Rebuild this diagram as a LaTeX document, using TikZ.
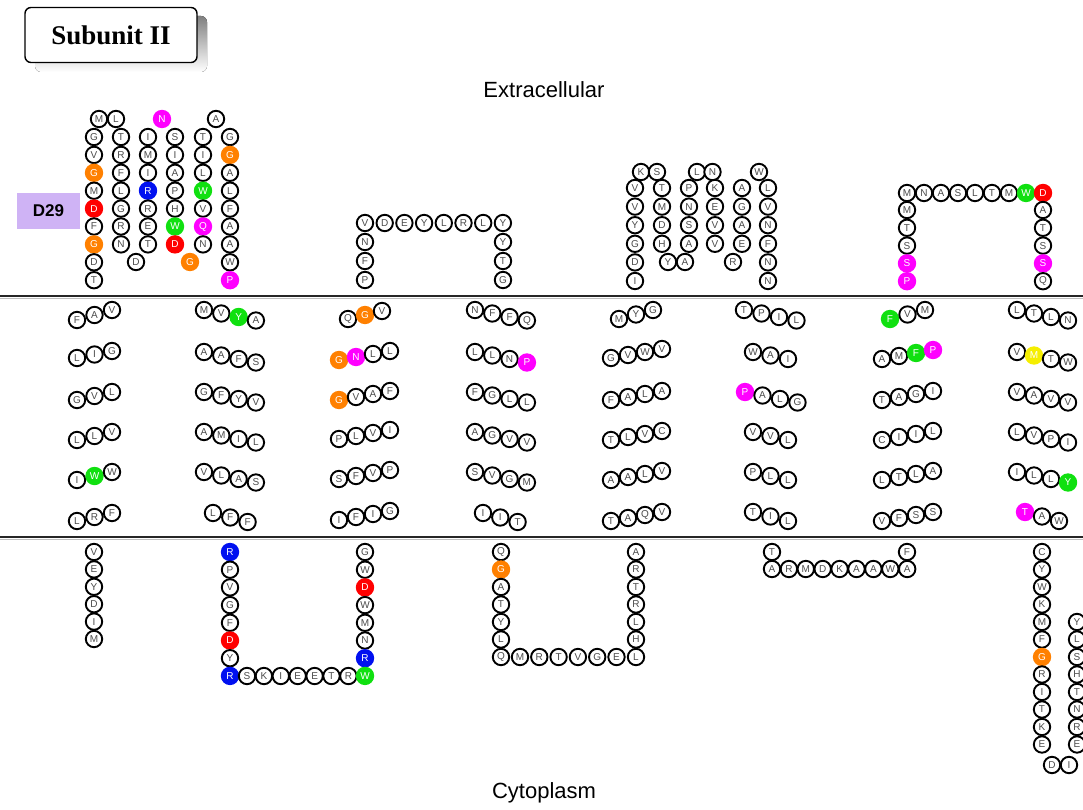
\documentclass[tikz,border=0pt]{standalone}
\usepackage{fontspec}
\setmainfont{Liberation Sans}
\newfontfamily\titlefont{Liberation Serif}
\definecolor{aaorange}{HTML}{FF8000}
\definecolor{aared}{HTML}{FF0000}
\definecolor{aablue}{HTML}{0010F0}
\definecolor{aagreen}{HTML}{10E010}
\definecolor{aamagenta}{HTML}{FF00FF}
\definecolor{aayellow}{HTML}{F5EE00}
\definecolor{lavender}{HTML}{CFB3F5}
\definecolor{shade}{HTML}{9A9A9A}
\newcount\rescnt
\def\resparse#1#2\relax{%
  \global\advance\rescnt by 1
  \node[res,res#2] (r\the\rescnt) at (\rx,\ry) {#1};}
% x0, y0, dx, dy, residues (letter + colour code)
\newcommand\resseg[5]{%
  \foreach \t [count=\i from 0] in {#5}{%
    \pgfmathsetmacro\rx{#1+\i*(#3)}%
    \pgfmathsetmacro\ry{#2+\i*(#4)}%
    \expandafter\resparse\t\relax}}
\begin{document}
\begin{tikzpicture}[x=1pt,y=-1pt,
    res/.style={circle,draw=black,line width=1.9pt,fill=white,minimum size=16.4pt,
      inner sep=0pt,text=black!70,font=\fontsize{10}{10}\selectfont},
    colres/.style={draw=none,minimum size=18.4pt,text=white},
    reso/.style={colres,fill=aaorange},
    resr/.style={colres,fill=aared},
    resb/.style={colres,fill=aablue},
    resg/.style={colres,fill=aagreen},
    resm/.style={colres,fill=aamagenta},
    resy/.style={colres,fill=aayellow},
    membrane/.style={line width=1.6pt,black!85}]
\useasboundingbox (0,0) rectangle (1083,810);

% title and compartments
\fill[shade,rounded corners=6pt] (35,16) rectangle (207,72);
\node[draw,line width=1.4pt,fill=white,rounded corners=6pt,minimum width=172pt,
  minimum height=55pt,font=\titlefont\bfseries\fontsize{27}{27}\selectfont]
  (title) at (111,35) {Subunit II};
\node[font=\fontsize{22}{22}\selectfont] (extra) at (544,90) {Extracellular};
\node[font=\fontsize{22}{22}\selectfont] (cyto) at (544,793) {Cytoplasm};
\node[fill=lavender,minimum width=63pt,minimum height=36pt,inner sep=0pt,
  font=\bfseries\fontsize{17}{17}\selectfont] (d29) at (48.5,211) {D29};

% membrane
\draw[black!25,line width=1pt] (0,298) -- (1083,298);
\draw[membrane] (0,296) -- (1083,296);
\draw[black!25,line width=1pt] (0,539) -- (1083,539);
\draw[membrane] (0,537) -- (1083,537);

% extracellular loops
\resseg{94}{137}{0}{17.9}{G,V,Go,M,Dr,F,Go,D,T}
\resseg{99}{119}{17}{0}{M,L}
\resseg{121}{137}{0}{17.9}{T,R,F,L,G,R,N}
\resseg{136}{262}{0}{0}{D}
\resseg{148}{137}{0}{17.9}{I,M,I,Rb,R,E,T}
\resseg{162}{119}{0}{0}{Nm}
\resseg{175}{137}{0}{17.9}{S,I,A,P,H,Wg,Dr}
\resseg{190}{262}{0}{0}{Go}
\resseg{203}{137}{0}{17.9}{T,I,L,Wg,V,Qm,N}
\resseg{216}{119}{0}{0}{A}
\resseg{230}{137}{0}{17.9}{G,Go,A,L,F,A,A,W,Pm}

\resseg{365}{223}{19.7}{0}{V,D,E,Y,L,R,L,Y}
\resseg{365}{242}{0}{19}{N,F,P}
\resseg{503}{242}{0}{19}{Y,T,G}

\resseg{635}{188}{0}{18.6}{V,V,Y,G,D,I}
\resseg{641}{172}{16}{0}{K,S}
\resseg{662}{188}{0}{18.6}{T,M,D,H}
\resseg{668}{262}{17}{0}{Y,A}
\resseg{689}{188}{0}{18.6}{P,N,S,A}
\resseg{697}{172}{15.5}{0}{L,N}
\resseg{715}{188}{0}{18.6}{K,E,V,V}
\resseg{733}{262}{0}{0}{R}
\resseg{742}{188}{0}{18.6}{A,G,A,E}
\resseg{759}{172}{0}{0}{W}
\resseg{768}{188}{0}{18.6}{L,V,N,F,N,N}

\resseg{907}{193}{17}{0}{M,N,A,S,L,T,M,Wg,Dr}
\resseg{907}{210}{0}{17.8}{M,T,S,Sm,Pm}
\resseg{1043}{210}{0}{17.8}{A,T,S,Sm,Q}

% helices
\resseg{77}{320}{17.5}{-5}{F,A,V}
\resseg{77}{358}{17.5}{-3.5}{L,I,G}
\resseg{77}{400}{17.5}{-4}{G,V,L}
\resseg{77}{440}{17.5}{-4}{L,L,V}
\resseg{77}{480}{17.5}{-4}{I,Wg,W}
\resseg{77}{521}{17.5}{-4}{L,R,F}

\resseg{204}{310}{17.3}{3.5}{M,V,Yg,A}
\resseg{204}{352}{17.3}{3.5}{A,A,F,S}
\resseg{204}{392}{17.3}{3.5}{G,F,Y,V}
\resseg{204}{432}{17.3}{3.5}{A,M,I,L}
\resseg{204}{472}{17.3}{3.5}{V,L,A,S}
\resseg{213}{513}{17.3}{4.5}{L,F,F}

\resseg{348}{319}{17}{-4}{Q,Go,V}
\resseg{339}{360}{17}{-3}{Go,Nm,L,L}
\resseg{339}{400}{17}{-3}{Go,V,A,F}
\resseg{339}{439}{17}{-3}{P,L,V,I}
\resseg{339}{479}{17}{-3}{S,F,V,P}
\resseg{339}{520}{17}{-3}{I,F,I,G}

\resseg{475}{310}{17.3}{3.5}{N,F,F,Q}
\resseg{475}{352}{17.3}{3.5}{L,L,N,Pm}
\resseg{475}{392}{17.3}{3.5}{F,G,L,L}
\resseg{475}{432}{17.3}{3.5}{A,G,V,V}
\resseg{475}{472}{17.3}{3.5}{S,V,G,M}
\resseg{483}{513}{17.3}{4.5}{I,I,T}

\resseg{619}{319}{17}{-4.5}{M,Y,G}
\resseg{611}{358}{17}{-3}{G,V,W,V}
\resseg{611}{400}{17}{-3}{F,A,L,A}
\resseg{611}{440}{17}{-3}{T,L,V,C}
\resseg{611}{480}{17}{-3}{A,A,L,V}
\resseg{611}{521}{17}{-3}{T,A,Q,V}

\resseg{744}{310}{17.5}{3.5}{T,P,I,L}
\resseg{753}{352}{17.5}{3.5}{W,A,I}
\resseg{745}{392}{17.5}{3.5}{Pm,A,L,G}
\resseg{753}{432}{17.5}{4}{V,V,L}
\resseg{753}{472}{17.5}{4}{P,L,L}
\resseg{753}{512}{17.5}{4.5}{T,I,L}

\resseg{890}{319}{17.5}{-4.5}{Fg,V,M}
\resseg{882}{359}{17}{-3}{A,M,Fg,Pm}
\resseg{882}{400}{17}{-3}{T,A,G,I}
\resseg{882}{440}{17}{-3}{C,I,I,L}
\resseg{882}{480}{17}{-3}{L,T,L,A}
\resseg{882}{521}{17}{-3}{V,F,S,S}

\resseg{1017}{310}{17}{3.5}{L,T,L,N}
\resseg{1017}{352}{17}{3.5}{V,My,T,W}
\resseg{1017}{392}{17}{3.5}{V,A,V,V}
\resseg{1017}{432}{17}{3.5}{L,V,P,I}
\resseg{1017}{472}{17}{3.5}{I,L,L,Yg}
\resseg{1025}{512}{17}{4.5}{Tm,A,W}

% cytoplasmic loops
\resseg{94}{552}{0}{17.4}{V,E,Y,D,I,M}

\resseg{230}{552}{0}{17.7}{Rb,P,V,G,F,Dr,Y,Rb}
\resseg{247}{676}{16.9}{0}{S,K,I,E,E,T,R}
\resseg{365}{552}{0}{17.7}{G,W,Dr,W,M,N,Rb,Wg}

\resseg{501}{552}{0}{17.5}{Q,Go,A,T,Y,L,Q}
\resseg{520}{657}{19.3}{0}{M,R,T,V,G,E}
\resseg{636}{552}{0}{17.5}{A,R,T,R,L,H,L}

\resseg{772}{552}{135}{0}{T,F}
\resseg{772}{569}{16.9}{0}{A,R,M,D,K,A,A,W,A}

\resseg{1042}{552}{0}{17.5}{C,Y,W,K,M,F,Go,R,I,T,K,E}
\resseg{1052}{765}{17}{0}{D,I}
\resseg{1077}{744.5}{0}{-17.5}{E,R,N,T,H,S,L,Y}
\end{tikzpicture}
\end{document}
